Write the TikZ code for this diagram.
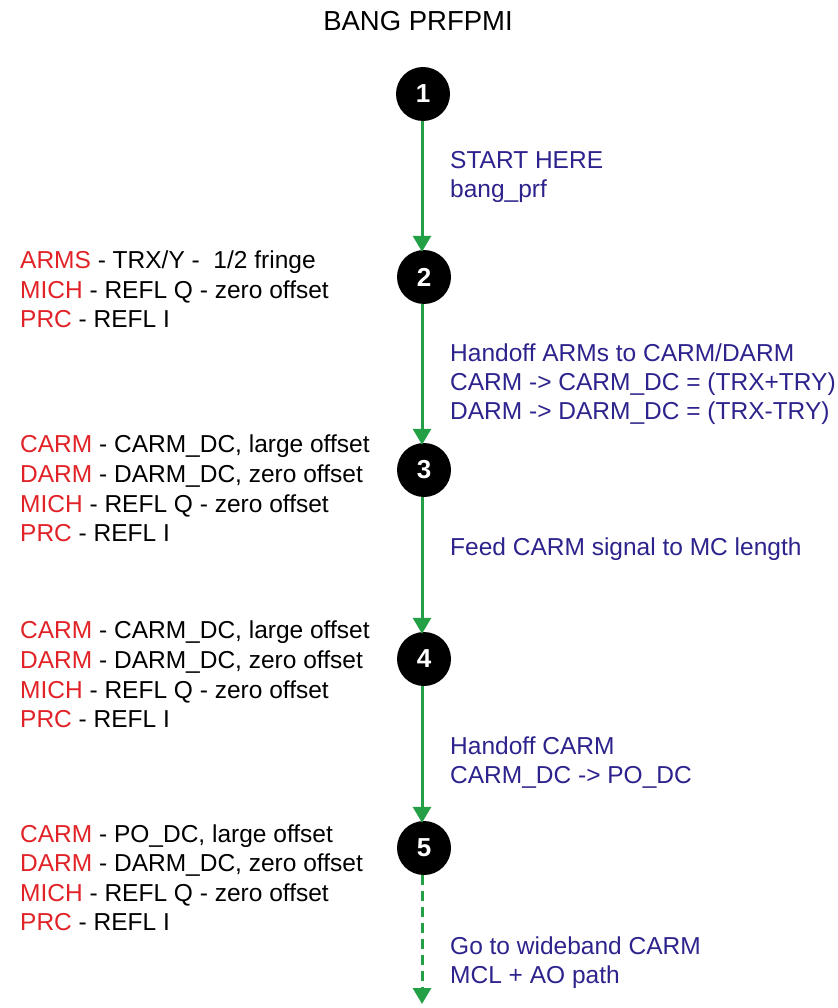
\documentclass[tikz,border=0pt]{standalone}
\usepackage{fontspec}
\setmainfont{Liberation Sans}
\usetikzlibrary{arrows.meta}
\definecolor{redlab}{RGB}{225,35,40}
\definecolor{bluelab}{RGB}{45,35,140}
\definecolor{arrowgreen}{RGB}{35,160,70}
\tikzset{
  x=1pt, y=-1pt,
  stepcirc/.style={circle, fill=black, minimum size=54pt, inner sep=0pt, text=white, font=\fontsize{26}{26}\selectfont\bfseries},
  flow/.style={draw=arrowgreen, line width=3pt, -{Triangle[length=16pt,width=18pt]}},
  lefttxt/.style={anchor=base west, inner sep=0pt, font=\fontsize{24.5}{29}\selectfont},
  bluetxt/.style={anchor=base west, inner sep=0pt, text=bluelab, font=\fontsize{24.5}{29}\selectfont},
}
\newcommand{\lab}[1]{\textcolor{redlab}{#1}}
\begin{document}
\begin{tikzpicture}
\useasboundingbox (0,0) rectangle (837,1008);
\node[anchor=base, inner sep=0pt, font=\fontsize{27.5}{30}\selectfont] (title) at (418,31) {BANG PRFPMI};

\node[stepcirc] (s1) at (423,94) {1};
\node[stepcirc] (s2) at (424,277) {2};
\node[stepcirc] (s3) at (424,470) {3};
\node[stepcirc] (s4) at (424,659) {4};
\node[stepcirc] (s5) at (424,848) {5};
\coordinate (end) at (422,1004);

\draw[flow] (s1.south -| 422,0) -- ([yshift=-2pt]s2.north -| 422,0);
\draw[flow] (s2.south -| 422,0) -- ([yshift=-2pt]s3.north -| 422,0);
\draw[flow] (s3.south -| 422,0) -- ([yshift=-2pt]s4.north -| 422,0);
\draw[flow] (s4.south -| 422,0) -- ([yshift=-2pt]s5.north -| 422,0);
\draw[flow, dash pattern=on 10pt off 6pt] (s5.south -| 422,0) -- (end);

% blue step descriptions
\node[bluetxt] (b1a) at (450,169) {START HERE};
\node[bluetxt] (b1b) at (450,198) {bang\_prf};
\node[bluetxt] (b2a) at (450,361) {Handoff ARMs to CARM/DARM};
\node[bluetxt] (b2b) at (450,390) {CARM -> CARM\_DC = (TRX+TRY)};
\node[bluetxt] (b2c) at (450,419) {DARM -> DARM\_DC = (TRX-TRY)};
\node[bluetxt] (b3a) at (450,555) {Feed CARM signal to MC length};
\node[bluetxt] (b4a) at (450,754) {Handoff CARM};
\node[bluetxt] (b4b) at (450,783) {CARM\_DC -> PO\_DC};
\node[bluetxt] (b5a) at (450,954) {Go to wideband CARM};
\node[bluetxt] (b5b) at (450,983) {MCL + AO path};

% left states
\node[lefttxt] (l2a) at (20,268) {\lab{ARMS} - TRX/Y -\ \ 1/2 fringe};
\node[lefttxt] (l2b) at (20,298) {\lab{MICH} - REFL Q - zero offset};
\node[lefttxt] (l2c) at (20,327) {\lab{PRC} - REFL I};

\node[lefttxt] (l3a) at (20,452) {\lab{CARM} - CARM\_DC, large offset};
\node[lefttxt] (l3b) at (20,482) {\lab{DARM} - DARM\_DC, zero offset};
\node[lefttxt] (l3c) at (20,512) {\lab{MICH} - REFL Q - zero offset};
\node[lefttxt] (l3d) at (20,541) {\lab{PRC} - REFL I};

\node[lefttxt] (l4a) at (20,638) {\lab{CARM} - CARM\_DC, large offset};
\node[lefttxt] (l4b) at (20,668) {\lab{DARM} - DARM\_DC, zero offset};
\node[lefttxt] (l4c) at (20,698) {\lab{MICH} - REFL Q - zero offset};
\node[lefttxt] (l4d) at (20,727) {\lab{PRC} - REFL I};

\node[lefttxt] (l5a) at (20,842) {\lab{CARM} - PO\_DC, large offset};
\node[lefttxt] (l5b) at (20,871) {\lab{DARM} - DARM\_DC, zero offset};
\node[lefttxt] (l5c) at (20,901) {\lab{MICH} - REFL Q - zero offset};
\node[lefttxt] (l5d) at (20,930) {\lab{PRC} - REFL I};
\end{tikzpicture}
\end{document}
